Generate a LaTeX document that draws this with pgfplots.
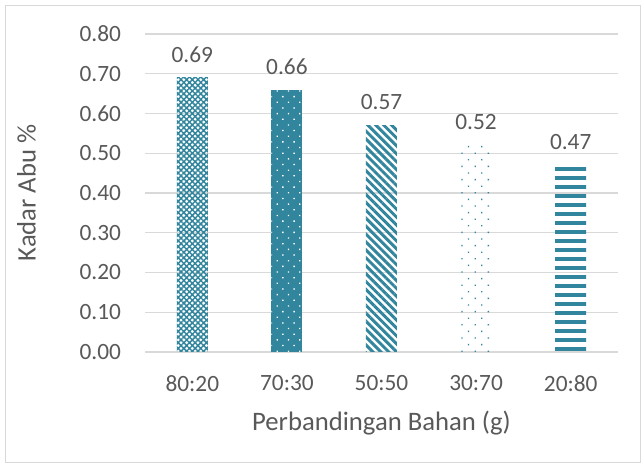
\documentclass[border=0pt]{standalone}
\usepackage{pgfplots}
\pgfplotsset{compat=1.18}
\usepackage{fontspec}
\setmainfont{Carlito}
\usetikzlibrary{patterns.meta}
\definecolor{teal1}{RGB}{49,133,156}
\definecolor{txt}{RGB}{89,89,89}
\definecolor{gridc}{RGB}{217,217,217}
% solid horizontal bands for the last bar
\pgfdeclarepatternformonly{hbands}{\pgfqpoint{0pt}{0pt}}{\pgfqpoint{12pt}{6.4pt}}{\pgfqpoint{12pt}{6.4pt}}{%
	\pgfpathrectangle{\pgfqpoint{-1pt}{0pt}}{\pgfqpoint{14pt}{3pt}}\pgfusepath{fill}}
\begin{document}
\begin{tikzpicture}[x=0.75pt,y=0.75pt]
% page and chart frame (px units, origin = plot area lower left)
\fill[white] (-145,-118) rectangle (498,352);
\draw[gridc, line width=0.75pt] (-139,-111) rectangle (495,346);
\begin{axis}[
	at={(0,0)}, anchor=south west,
	scale only axis,
	width=354.75pt, height=238.5pt,
	xmin=-0.5, xmax=4.5,
	ymin=0, ymax=0.8,
	xtick={0,...,4},
	xticklabels={80:20,70:30,50:50,30:70,20:80},
	ytick={0,0.1,...,0.8},
	/pgf/number format/fixed,
	/pgf/number format/fixed zerofill,
	/pgf/number format/precision=2,
	/pgf/number format/assume math mode=true,
	ticklabel style={font=\fontsize{17.5}{20}\selectfont, text=txt},
	major tick length=0pt,
	xticklabel shift=14pt,
	yticklabel shift=14.5pt,
	axis line style={draw=none},
	ymajorgrids,
	grid style={gridc, line width=1.1pt},
	xlabel={Perbandingan Bahan (g)},
	ylabel={Kadar Abu \%},
	label style={font=\fontsize{20}{24}\selectfont, text=txt},
	xlabel style={yshift=-8pt},
	ylabel style={yshift=26pt},
	ybar, bar width=23.25pt, bar shift=0pt,
	nodes near coords,
	nodes near coords style={font=\fontsize{17.5}{20}\selectfont, text=txt, yshift=8pt},
	clip=false,
]
\addplot[draw=none, pattern={Hatch[angle=45,distance=3pt,line width=1.1pt]}, pattern color=teal1]
	coordinates {(0,0.69)};
\addplot[draw=none, fill=teal1, postaction={pattern={Dots[angle=45,distance=6pt,radius=0.7pt]}, pattern color=white}]
	coordinates {(1,0.66)};
\addplot[draw=none, pattern={Lines[angle=-45,distance=4.2pt,line width=2.2pt]}, pattern color=teal1]
	coordinates {(2,0.57)};
\addplot[draw=none, pattern={Dots[angle=45,distance=7pt,radius=0.7pt]}, pattern color=teal1]
	coordinates {(3,0.52)};
\addplot[draw=none, pattern=hbands, pattern color=teal1]
	coordinates {(4,0.47)};
\end{axis}
\end{tikzpicture}
\end{document}
